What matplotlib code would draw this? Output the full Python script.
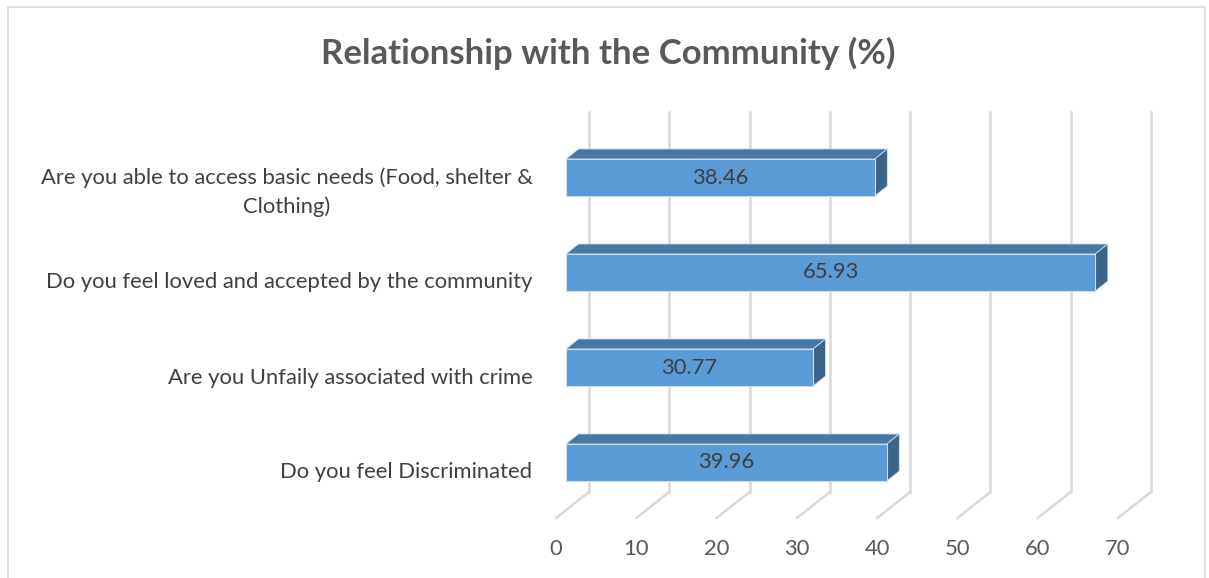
import matplotlib.pyplot as plt
from matplotlib.patches import Polygon, Rectangle

# data
categories = ['Do you feel Discriminated',
              'Are you Unfaily associated with crime',
              'Do you feel loved and accepted by the community',
              'Are you able to access basic needs (Food, shelter &\nClothing)']
values = [39.96, 30.77, 65.93, 38.46]
x_ticks = [0, 10, 20, 30, 40, 50, 60, 70]

plt.rcParams['font.family'] = ['Lato', 'DejaVu Sans']

W, H = 1209, 578
fig = plt.figure(figsize=(W / 100, H / 100), dpi=100)

# front plane of the plot box in pixels (from top-left)
left_px, right_px = 556, 1118
top_px, bottom_px = 138, 518
ax = fig.add_axes([left_px / W, (H - bottom_px) / H,
                   (right_px - left_px) / W, (bottom_px - top_px) / H])
ax.set_xlim(0, 70)
ax.set_ylim(-0.5, 3.5)
for s in ax.spines.values():
    s.set_visible(False)

# pixel -> data unit conversion for the 3d depth offsets
px_x = (right_px - left_px) / 70
px_y = (bottom_px - top_px) / 4.0

def depth(dx, dy):
    return dx / px_x, dy / px_y

grid_dx, grid_dy = depth(33, 26)
bf_dx, bf_dy = depth(10, 8)       # bar front face
bb_dx, bb_dy = depth(22.5, 18)    # bar back face

grid_col = '#D9D9D9'
for t in x_ticks:
    # floor line and back wall line
    ax.plot([t, t + grid_dx], [-0.5, -0.5 + grid_dy], color=grid_col, lw=1.8,
            clip_on=False, zorder=1)
    ax.plot([t + grid_dx, t + grid_dx], [-0.5 + grid_dy, 3.5 + grid_dy],
            color=grid_col, lw=1.8, clip_on=False, zorder=1)

bar_h = 0.39
front_col = '#5B9BD5'
top_col = '#4677A5'
side_col = '#3A6488'
edge_col = '#C9DDF0'
for i, v in enumerate(values):
    y0 = i - bar_h / 2 + bf_dy
    y1 = i + bar_h / 2 + bf_dy
    x0 = bf_dx
    x1 = v + bf_dx
    ddx = bb_dx - bf_dx
    ddy = bb_dy - bf_dy
    top = Polygon([[x0, y1], [x1, y1], [x1 + ddx, y1 + ddy], [x0 + ddx, y1 + ddy]],
                  closed=True, fc=top_col, ec=edge_col, lw=0.6, clip_on=False, zorder=2)
    side = Polygon([[x1, y0], [x1 + ddx, y0 + ddy], [x1 + ddx, y1 + ddy], [x1, y1]],
                   closed=True, fc=side_col, ec=edge_col, lw=0.6, clip_on=False, zorder=2)
    front = Rectangle((x0, y0), v, bar_h, fc=front_col, ec=edge_col, lw=0.8,
                      clip_on=False, zorder=3)
    ax.add_patch(top)
    ax.add_patch(side)
    ax.add_patch(front)
    ax.text(x0 + v / 2, i + bf_dy, f'{v:.2f}', ha='center', va='center',
            fontsize=15.8, color='#404040', zorder=4)

ax.set_xticks(x_ticks)
ax.set_xticklabels([str(t) for t in x_ticks])
ax.set_yticks(range(len(categories)))
ax.set_yticklabels(categories)
ax.tick_params(axis='x', length=0, pad=15, labelsize=15.8, labelcolor='#595959')
ax.tick_params(axis='y', length=0, pad=17, labelsize=15.8, labelcolor='#404040')
for lbl in ax.get_yticklabels():
    lbl.set_multialignment('center')
    lbl.set_linespacing(1.55)

fig.text(0.503, 1 - 53 / H, 'Relationship with the Community (%)', ha='center', va='center',
         fontsize=25, fontweight='bold', color='#595959')

# chart border
fig.patches.append(Rectangle((8 / W, -0.05), (1205 - 8) / W, 1.05 - 7 / H,
                             transform=fig.transFigure, fill=False, ec='#D9D9D9', lw=1.2))

fig.savefig('out.png', dpi=100)
